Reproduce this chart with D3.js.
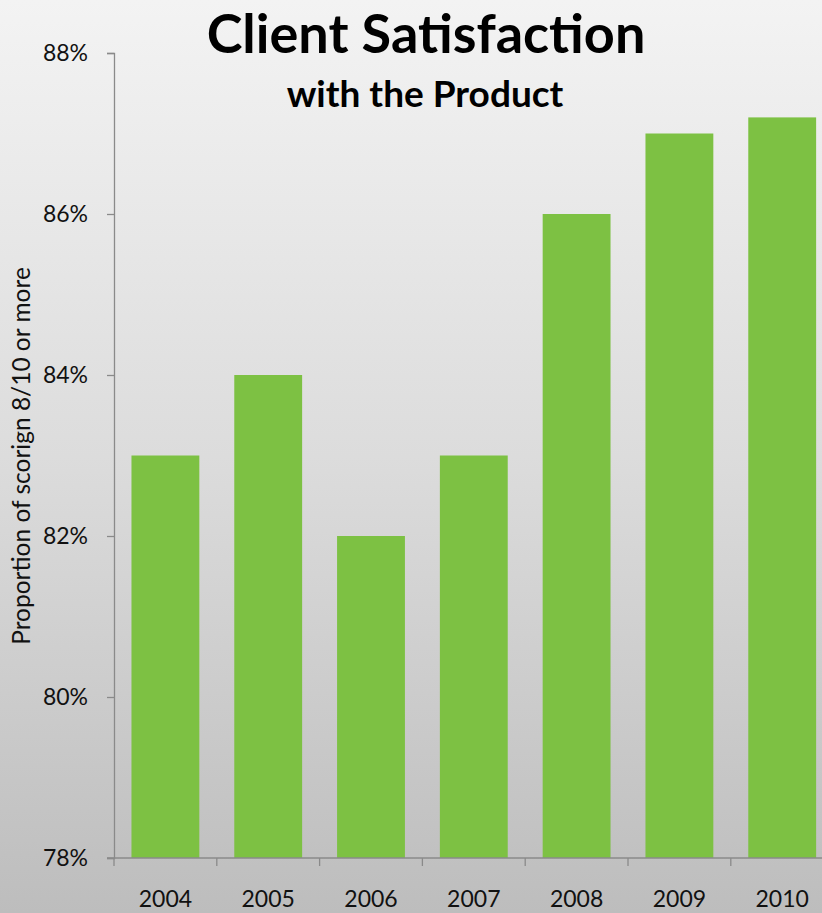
<!DOCTYPE html>
<html><head><meta charset="utf-8">
<script src="https://cdn.jsdelivr.net/npm/d3@7"></script>
<style>html,body{margin:0;padding:0;overflow:hidden;}</style>
</head><body>
<script>
const years = ["2004","2005","2006","2007","2008","2009","2010"];
const values = [0.83, 0.84, 0.82, 0.83, 0.86, 0.87, 0.872];
const yTicks = [0.78, 0.80, 0.82, 0.84, 0.86, 0.88];
const titleText = "Client Satisfaction";
const subtitleText = "with the Product";
const yAxisLabel = "Proportion of scorign 8/10 or more";

const W = 822, H = 913;
const font = "Lato, 'Open Sans', sans-serif";
const svg = d3.select("body").append("svg").attr("width", W).attr("height", H);
const defs = svg.append("defs");
const grad = defs.append("linearGradient").attr("id","bg").attr("x1",0).attr("y1",0).attr("x2",0).attr("y2",1);
grad.append("stop").attr("offset","0%").attr("stop-color","#f3f3f3");
grad.append("stop").attr("offset","50%").attr("stop-color","#dcdcdc");
grad.append("stop").attr("offset","100%").attr("stop-color","#bdbdbd");
svg.append("rect").attr("width",W).attr("height",H).attr("fill","url(#bg)");

const x0 = 114, yTop = 53, yBot = 858;
const x = d3.scaleBand().domain(years).range([x0, x0 + 7*102.8]).paddingInner(0.34).paddingOuter(0.17);
const y = d3.scaleLinear().domain([0.78, 0.88]).range([yBot, yTop]);

svg.append("g").selectAll("rect").data(years).join("rect")
  .attr("x", d => x(d)).attr("width", x.bandwidth())
  .attr("y", (d,i) => y(values[i])).attr("height", (d,i) => yBot - y(values[i]))
  .attr("fill", "#7dc143");

// y axis
const ya = svg.append("g").attr("transform", `translate(${x0},0)`)
  .call(d3.axisLeft(y).tickValues(yTicks).tickFormat(d3.format(".0%")).tickSize(7).tickPadding(19));
ya.select(".domain").attr("stroke","#8a8a8a").attr("stroke-width",1.3);
ya.selectAll(".tick line").attr("stroke","#8a8a8a").attr("stroke-width",1.3);
ya.selectAll("text").attr("font-family",font).attr("font-size",23).attr("fill","#111");

// x axis
const xa = svg.append("g").attr("transform", `translate(0,${yBot})`);
xa.append("line").attr("x1", x0 - 7).attr("x2", W).attr("y1",0).attr("y2",0).attr("stroke","#8a8a8a").attr("stroke-width",1.3);
const step = x.step();
xa.selectAll(".tk").data(d3.range(8)).join("line")
  .attr("x1", i => x0 + i*step).attr("x2", i => x0 + i*step)
  .attr("y1",0).attr("y2",8).attr("stroke","#8a8a8a").attr("stroke-width",1.3);
xa.selectAll("text").data(years).join("text")
  .attr("x", d => x(d) + x.bandwidth()/2).attr("y", 49)
  .attr("text-anchor","middle").attr("font-family",font).attr("font-size",23).attr("fill","#111")
  .text(d => d);

// y axis title
svg.append("text").attr("transform","translate(30,456) rotate(-90)")
  .attr("text-anchor","middle").attr("font-family",font).attr("font-size",24.5).attr("fill","#111")
  .text(yAxisLabel);

// titles
svg.append("text").attr("x",426).attr("y",53).attr("text-anchor","middle")
  .attr("font-family",font).attr("font-weight","bold").attr("font-size",54).attr("fill","#000")
  .text(titleText);
svg.append("text").attr("x",425).attr("y",107).attr("text-anchor","middle")
  .attr("font-family",font).attr("font-weight","bold").attr("font-size",37).attr("fill","#000")
  .text(subtitleText);
</script>
</body></html>
